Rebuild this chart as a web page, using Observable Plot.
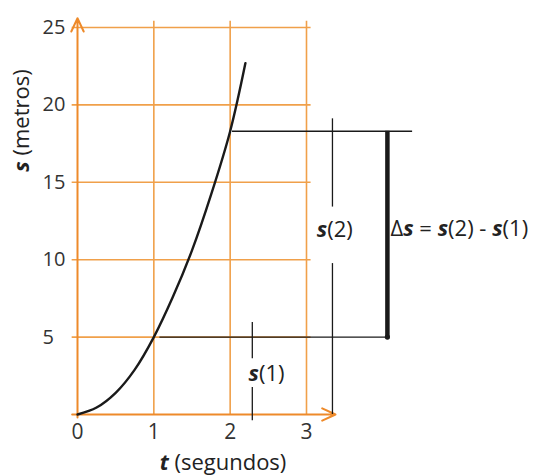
<!DOCTYPE html>
<html><head><meta charset="utf-8">
<script src="https://cdn.jsdelivr.net/npm/d3@7"></script>
<script src="https://cdn.jsdelivr.net/npm/@observablehq/plot@0.6"></script>
<style>
body{margin:0;background:#fff;}
</style></head><body><div id="chart"></div>
<script>
// curve: t (s) vs s (m)
const tValues = [0, 0.25, 0.5, 0.75, 1, 1.25, 1.5, 1.75, 2, 2.2];
const sValues = [0, 0.45, 1.4, 2.9, 5, 7.6, 10.6, 14.2, 18.3, 22.7];
const xTicks = [0, 1, 2, 3];
const yTicks = [5, 10, 15, 20, 25];
const tAt1 = 1, tAt2 = 2;
const sAt1 = 5, sAt2 = 18.3;

// annotation anchors (data units)
const deltaBarT = 4.06;
const s2LineEndT = 4.39;
const s1LineStartT = 1.08;
const s2MarkT = 3.34;
const s1MarkT = 2.29;

const orange = "#f0a04a";
const orangeAxis = "#ee8a2a";
const ink = "#1a1a1a";

const curve = tValues.map((t, i) => ({t, s: sValues[i]}));

const plot = Plot.plot({
  width: 537, height: 476,
  marginLeft: 77, marginRight: 231, marginTop: 27, marginBottom: 62,
  style: {fontFamily: "'Open Sans', sans-serif", fontSize: "21px", color: "#333", background: "#fff"},
  x: {domain: [0, 3]},
  y: {domain: [0, 25]},
  marks: [
    // grid
    Plot.ruleY(yTicks, {x1: -0.07, x2: 3.06, stroke: orange, strokeWidth: 1.6}),
    Plot.ruleX(xTicks.slice(1), {y1: 0, y2: 25.4, stroke: orange, strokeWidth: 1.6}),
    // axes with arrows
    Plot.arrow([{x1: -0.07, y1: 0, x2: 3.38, y2: 0}], {x1: "x1", y1: "y1", x2: "x2", y2: "y2", stroke: orangeAxis, strokeWidth: 2, headLength: 11, headAngle: 50}),
    Plot.arrow([{x1: 0, y1: -0.2, x2: 0, y2: 25.6}], {x1: "x1", y1: "y1", x2: "x2", y2: "y2", stroke: orangeAxis, strokeWidth: 2, headLength: 11, headAngle: 50}),
    // annotation lines
    Plot.ruleY([sAt2], {x1: tAt2 + 0.03, x2: s2LineEndT, stroke: ink, strokeWidth: 1.4}),
    Plot.ruleY([sAt1], {x1: s1LineStartT, x2: deltaBarT, stroke: ink, strokeWidth: 1.4}),
    Plot.ruleX([deltaBarT], {y1: sAt1, y2: sAt2, stroke: ink, strokeWidth: 4.5}),
    Plot.dot([{t: deltaBarT, s: sAt1}], {x: "t", y: "s", r: 2.6, fill: ink}),
    Plot.ruleX([s2MarkT], {y1: 19.1, y2: 13.4, stroke: ink, strokeWidth: 1.3}),
    Plot.ruleX([s2MarkT], {y1: 9.75, y2: 0, stroke: ink, strokeWidth: 1.3}),
    Plot.ruleX([s1MarkT], {y1: 5.95, y2: 3.6, stroke: ink, strokeWidth: 1.3}),
    Plot.ruleX([s1MarkT], {y1: 1.75, y2: -0.4, stroke: ink, strokeWidth: 1.3}),
    // curve
    Plot.line(curve, {x: "t", y: "s", curve: "catmull-rom", stroke: ink, strokeWidth: 2.4}),
    // labels
    Plot.text(["*s*(2)"], {x: 3.37, y: 11.9, text: d => d, fontSize: 22, fill: "#222"}),
    Plot.text(["*s*(1)"], {x: 2.24, y: 2.6, text: d => d, textAnchor: "start", fontSize: 22, fill: "#222"}),
    Plot.text(["Δ*s* = *s*(2) - *s*(1)"], {x: 4.1, y: 12.0, text: d => d, textAnchor: "start", fontSize: 22, fill: "#222"}),
    // axes
    Plot.axisX({ticks: xTicks, tickFormat: "d", tickSize: 0, tickPadding: 10, fontSize: 21, label: null}),
    Plot.axisY({ticks: yTicks, tickFormat: "d", tickSize: 0, tickPadding: 35, textAnchor: "start", fontSize: 20, label: null}),
    Plot.text(["*t* (segundos)"], {frameAnchor: "bottom", textAnchor: "middle", lineAnchor: "middle", dx: 31, dy: 48, text: d => d, fontSize: 22, fill: "#222"}),
    Plot.text(["*s* (metros)"], {frameAnchor: "top-left", textAnchor: "middle", lineAnchor: "middle", dx: -56, dy: 93, rotate: -90, text: d => d, fontSize: 22, fill: "#222"})
  ]
});

// rich text: *...* => bold italic
d3.select(plot).selectAll("text").each(function() {
  const txt = this.textContent;
  if (!txt.includes("*")) return;
  const parts = txt.split("*");
  this.textContent = "";
  parts.forEach((p, i) => {
    if (!p) return;
    const ts = document.createElementNS("http://www.w3.org/2000/svg", "tspan");
    ts.textContent = p;
    if (i % 2 === 1) { ts.setAttribute("font-weight", "bold"); ts.setAttribute("font-style", "italic"); }
    this.appendChild(ts);
  });
});

document.getElementById("chart").appendChild(plot);
</script></body></html>
